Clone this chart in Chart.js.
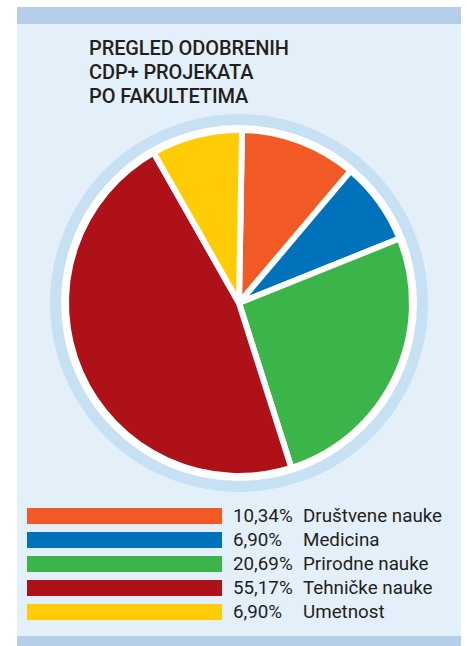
<!DOCTYPE html>
<html>
<head>
<meta charset="utf-8">
<script src="https://cdn.jsdelivr.net/npm/chart.js@4"></script>
<style>
  body { margin: 0; background: #ffffff; width: 467px; height: 646px; overflow: hidden; position: relative; font-family: Roboto, "Liberation Sans", sans-serif; }
  #panel { position: absolute; left: 17px; top: 7px; width: 444px; height: 639px; background: #e3f0fa; }
  #topBand { position: absolute; left: 17px; top: 7px; width: 444px; height: 17px; background: #b5cfeb; }
  #bottomBand { position: absolute; left: 17px; top: 636px; width: 444px; height: 10px; background: #b5cfeb; }
  #title { position: absolute; left: 89px; top: 36px; font-size: 20px; font-weight: 500; line-height: 24px; color: #231f20; letter-spacing: -0.1px; }
  #chartBox { position: absolute; left: 39px; top: 103px; width: 400px; height: 400px; }
  #legend { position: absolute; left: 27px; top: 508px; }
  .row { display: flex; height: 24px; }
  .swatch { width: 195px; height: 16px; }
  .pct { width: 70px; margin-left: 11px; font-size: 18.8px; line-height: 16px; color: #231f20; }
  .name { font-size: 18.8px; line-height: 16px; color: #231f20; }
</style>
</head>
<body>
<div id="panel"></div>
<div id="topBand"></div>
<div id="bottomBand"></div>
<div id="title">PREGLED ODOBRENIH<br>CDP+ PROJEKATA<br>PO FAKULTETIMA</div>
<div id="chartBox"><canvas id="pieChart" width="400" height="400"></canvas></div>
<div id="legend"></div>
<script>
// Categories and printed shares (legend text)
const categories = ['Društvene nauke', 'Medicina', 'Prirodne nauke', 'Tehničke nauke', 'Umetnost'];
const shareLabels = ['10,34%', '6,90%', '20,69%', '55,17%', '6,90%'];
// Slice sizes as drawn in the pie (percent)
const sliceValues = [10.9, 7.75, 26.2, 46.7, 8.5];
const colors = ['#f15a24', '#0071bb', '#3bb54a', '#ae1117', '#ffcc05'];

// Build the legend rows
const legend = document.getElementById('legend');
categories.forEach((name, i) => {
  const row = document.createElement('div');
  row.className = 'row';
  row.innerHTML = `<div class="swatch" style="background:${colors[i]}"></div>` +
    `<div class="pct">${shareLabels[i]}</div><div class="name">${name}</div>`;
  legend.appendChild(row);
});

// Draw the white and light blue rings behind the pie
const ringPlugin = {
  id: 'rings',
  beforeDatasetsDraw(chart) {
    const arc = chart.getDatasetMeta(0).data[0];
    if (!arc) return;
    const ctx = chart.ctx;
    ctx.save();
    ctx.fillStyle = '#c6e0f4';
    ctx.beginPath();
    ctx.arc(arc.x, arc.y, arc.outerRadius + 16, 0, Math.PI * 2);
    ctx.fill();
    ctx.fillStyle = '#ffffff';
    ctx.beginPath();
    ctx.arc(arc.x, arc.y, arc.outerRadius + 5, 0, Math.PI * 2);
    ctx.fill();
    ctx.restore();
  }
};

const ctx = document.getElementById('pieChart').getContext('2d');
new Chart(ctx, {
  type: 'pie',
  data: {
    labels: categories,
    datasets: [{
      data: sliceValues,
      backgroundColor: colors,
      borderColor: '#ffffff',
      borderWidth: 6
    }]
  },
  options: {
    responsive: false,
    animation: false,
    rotation: 1,
    layout: { padding: 24 },
    events: [],
    plugins: {
      legend: { display: false },
      tooltip: { enabled: false }
    }
  },
  plugins: [ringPlugin]
});
</script>
</body>
</html>
